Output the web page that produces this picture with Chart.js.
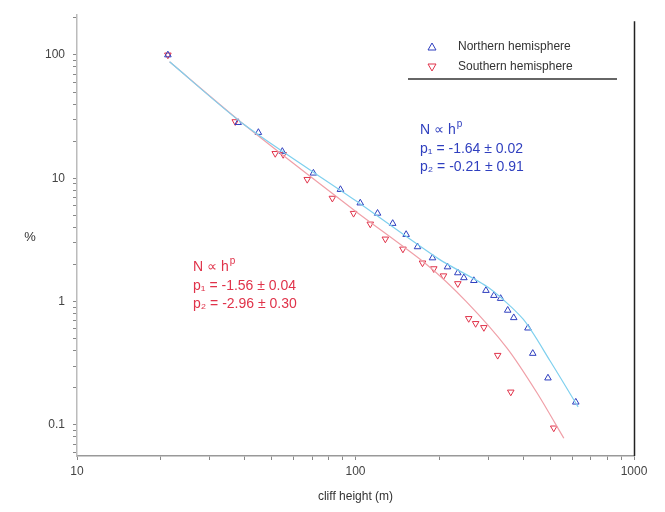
<!DOCTYPE html>
<html><head><meta charset="utf-8">
<script src="https://cdn.jsdelivr.net/npm/chart.js@4"></script>
<style>html,body{margin:0;padding:0;background:#fff}#c{display:block}</style>
</head><body>
<canvas id="c" width="665" height="512"></canvas>
<script>
const northX = [21.2,37.9,44.8,54.6,70.6,88.3,104,120,136,152,167,189,214,233,245,266,294,314,332,352,370,416,433,491,618];
const northY = [100,28.3,23.5,16.5,11.0,8.1,6.3,5.2,4.3,3.5,2.78,2.26,1.91,1.71,1.56,1.48,1.23,1.12,1.06,0.85,0.74,0.61,0.38,0.24,0.153];
const southX = [21.2,37,51.5,55,67.1,82.6,98.4,113,128,148,174,191,207,233,255,270,289,324,361,515];
const southY = [100,28.8,15.9,15.6,9.8,6.9,5.2,4.26,3.22,2.67,2.06,1.85,1.62,1.40,0.73,0.665,0.617,0.367,0.185,0.0946];
const northFitX = [21.5,40,100,200,300,400,500,630];
const northFitY = [88,27,6.6,2.2,1.3,0.72,0.33,0.14];
const southFitX = [21.5,40,100,180,250,350,450,560];
const southFitY = [88,27,5.4,2.0,1.0,0.42,0.18,0.078];
const xTickLabels = [10,100,1000];
const yTickLabels = [0.1,1,10,100];
const legendLabels = ['Northern hemisphere','Southern hemisphere'];
const northText = ['N \u221D h','p\u2081 = -1.64 \u00B1 0.02','p\u2082 = -0.21 \u00B1 0.91'];
const southText = ['N \u221D h','p\u2081 = -1.56 \u00B1 0.04','p\u2082 = -2.96 \u00B1 0.30'];

const BLUE = '#2f3fbf', RED = '#e0334a';
const FONT = '"Liberation Sans", Arial, sans-serif';
const pts = (xs, ys) => xs.map((x, i) => ({x, y: ys[i]}));
function minorTicks(min, max){
  const t=[]; for(let e=-2;e<=3;e++){for(let m=1;m<10;m++){const v=m*Math.pow(10,e); if(v>=min*0.999&&v<=max*1.001)t.push({value:v});}} return t;
}
const overlay = {
  id:'overlay',
  afterDraw(chart){
    const ctx=chart.ctx, a=chart.chartArea;
    ctx.save();
    ctx.strokeStyle='#222'; ctx.lineWidth=1.5;
    ctx.beginPath(); ctx.moveTo(a.right+0.5,a.top+6); ctx.lineTo(a.right+0.5,a.bottom); ctx.stroke();
    // y title
    ctx.font='13px '+FONT; ctx.fillStyle='#333'; ctx.textAlign='center'; ctx.textBaseline='middle';
    ctx.fillText('%',30,237);
    ctx.textAlign='left';
    // legend
    ctx.font='12px '+FONT;
    ctx.fillText(legendLabels[0],458,47);
    ctx.fillText(legendLabels[1],458,67);
    ctx.lineWidth=1;
    ctx.strokeStyle=BLUE; ctx.beginPath(); ctx.moveTo(432,43); ctx.lineTo(436,50); ctx.lineTo(428,50); ctx.closePath(); ctx.stroke();
    ctx.strokeStyle=RED; ctx.beginPath(); ctx.moveTo(428,64); ctx.lineTo(436,64); ctx.lineTo(432,71); ctx.closePath(); ctx.stroke();
    ctx.strokeStyle='#333'; ctx.lineWidth=1.5;
    ctx.beginPath(); ctx.moveTo(408,79); ctx.lineTo(617,79); ctx.stroke();
    // annotations
    function block(lines,x,y,col){
      ctx.font='14px '+FONT;
      ctx.fillStyle=col;
      ctx.fillText(lines[0],x,y);
      const w=ctx.measureText(lines[0]).width;
      ctx.font='10px '+FONT;
      ctx.fillText('p',x+w+1,y-6);
      ctx.font='14px '+FONT;
      ctx.fillText(lines[1],x,y+19);
      ctx.fillText(lines[2],x,y+37);
    }
    block(northText,420,130,BLUE);
    block(southText,193,267,RED);
    ctx.restore();
  }
};
new Chart(document.getElementById('c'),{
  type:'scatter',
  data:{datasets:[
    {label:'nfit',data:pts(northFitX,northFitY),showLine:true,borderColor:'#7fd0ee',borderWidth:1.2,pointRadius:0,tension:0.25},
    {label:'sfit',data:pts(southFitX,southFitY),showLine:true,borderColor:'#f0a0a8',borderWidth:1.2,pointRadius:0,tension:0.25},
    {label:legendLabels[0],data:pts(northX,northY),pointStyle:'triangle',pointRadius:3.8,borderColor:BLUE,backgroundColor:'rgba(0,0,0,0)',borderWidth:1},
    {label:legendLabels[1],data:pts(southX,southY),pointStyle:'triangle',rotation:180,pointRadius:3.8,borderColor:RED,backgroundColor:'rgba(0,0,0,0)',borderWidth:1}
  ]},
  options:{
    responsive:false,animation:false,
    layout:{padding:{top:13,right:31,left:0,bottom:0}},
    plugins:{legend:{display:false},tooltip:{enabled:false}},
    scales:{
      x:{type:'logarithmic',min:10,max:1000,
        afterBuildTicks(s){s.ticks=minorTicks(10,1000);},
        afterFit(s){s.height=56;},
        border:{color:'#999',width:1.5},
        grid:{drawOnChartArea:false,tickLength:4,color:'#888'},
        ticks:{autoSkip:false,maxRotation:0,color:'#444',font:{size:12,family:FONT},padding:4,
          callback(v){return xTickLabels.includes(v)?String(v):'';}},
        title:{display:true,text:'cliff height (m)',color:'#333',font:{size:12,family:FONT},padding:{top:0,bottom:8}}
      },
      y:{type:'logarithmic',min:0.056,max:210,
        afterBuildTicks(s){s.ticks=minorTicks(0.056,210);},
        afterFit(s){s.width=77;},
        border:{color:'#bbb',width:1.5},
        grid:{drawOnChartArea:false,tickLength:4,color:'#888'},
        ticks:{autoSkip:false,color:'#444',font:{size:12,family:FONT},padding:8,
          callback(v){const n=Number(v.toPrecision(3));return yTickLabels.includes(n)?String(n):'';}},
        title:{display:false}
      }
    }
  },
  plugins:[overlay]
});
</script>
</body></html>
